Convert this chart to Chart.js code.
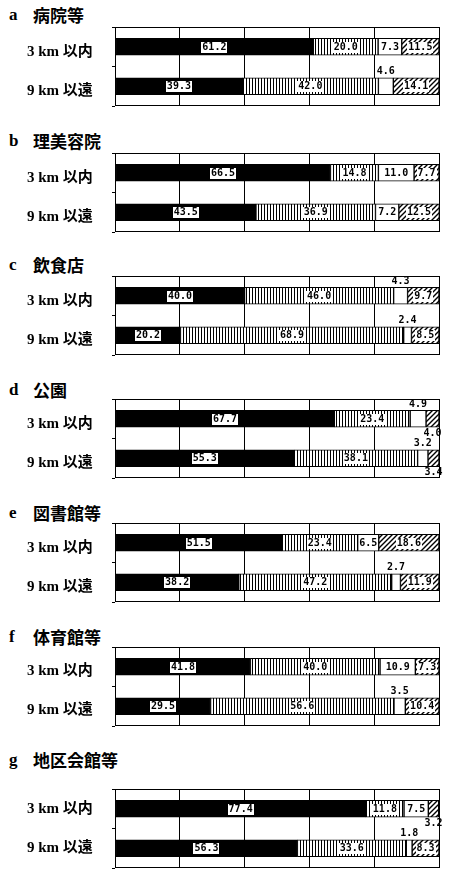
<!DOCTYPE html>
<html><head><meta charset="utf-8">
<script src="https://cdn.jsdelivr.net/npm/chart.js@4.4.1/dist/chart.umd.min.js"></script>
<style>
html,body{margin:0;padding:0;background:#fff;}
body{width:450px;height:873px;position:relative;overflow:hidden;}
.title{position:absolute;left:0;width:450px;height:20px;line-height:20px;font-weight:bold;color:#000;}
.title .l{position:absolute;left:9px;top:0;font-family:"Liberation Serif",serif;font-size:17px;}
.title .n{position:absolute;left:33px;top:0;font-family:"Noto Sans CJK JP",sans-serif;font-size:17px;white-space:nowrap;}
.box{position:absolute;left:0;width:450px;height:81px;}
</style></head><body>
<script>
// ---- data ----
const panelLetters = ['a','b','c','d','e','f','g'];
const facilityNames = ['病院等','理美容院','飲食店','公園','図書館等','体育館等','地区会館等'];
const distanceLabels = ['3 km 以内','9 km 以遠'];
const seriesNames = ['区分1','区分2','区分3','区分4'];
// each pair: [3 km 以内, 9 km 以遠]
const blackValues  = [[61.2,39.3],[66.5,43.5],[40.0,20.2],[67.7,55.3],[51.5,38.2],[41.8,29.5],[77.4,56.3]];
const stripeValues = [[20.0,42.0],[14.8,36.9],[46.0,68.9],[23.4,38.1],[23.4,47.2],[40.0,56.6],[11.8,33.6]];
const whiteValues  = [[7.3,4.6],[11.0,7.2],[4.3,2.4],[4.9,3.2],[6.5,2.7],[10.9,3.5],[7.5,1.8]];
const hatchValues  = [[11.5,14.1],[7.7,12.5],[9.7,8.5],[4.0,3.4],[18.6,11.9],[7.3,10.4],[3.2,8.3]];
const xTickValues = [0,20,40,60,80,100];

// ---- layout ----
const titleTops = [5,131,255,380,503,627,750];
const boxTops = [27,153,276,399,523,647,789];
const labelOffsets = [5,5,5,5,5,4,0];

function makeStripe(){
  const c=document.createElement('canvas'); c.width=3; c.height=4;
  const g=c.getContext('2d'); g.fillStyle='#fff'; g.fillRect(0,0,3,4);
  g.fillStyle='#000'; g.fillRect(0,0,1,4);
  return g.createPattern(c,'repeat');
}
function makeHatch(){
  const s=5;
  const c=document.createElement('canvas'); c.width=s; c.height=s;
  const g=c.getContext('2d'); g.fillStyle='#fff'; g.fillRect(0,0,s,s);
  g.strokeStyle='#000'; g.lineWidth=1.4;
  g.beginPath();
  g.moveTo(-1,s+1); g.lineTo(s+1,-1);
  g.moveTo(-1,1); g.lineTo(1,-1);
  g.moveTo(s-1,s+1); g.lineTo(s+1,s-1);
  g.stroke();
  return g.createPattern(c,'repeat');
}

const boxPlugin = {
  id:'boxFrame',
  afterDatasetsDraw(chart){
    const a=chart.chartArea, ctx=chart.ctx;
    ctx.save(); ctx.strokeStyle='#000'; ctx.lineWidth=1;
    const x0=Math.round(a.left)+0.5, x1=Math.round(a.right)+0.5;
    const y0=Math.round(a.top)+0.5, y1=Math.round(a.bottom)-0.5;
    ctx.beginPath();
    ctx.moveTo(x0,y0); ctx.lineTo(x1,y0); ctx.lineTo(x1,y1); ctx.lineTo(x0,y1); ctx.closePath();
    ctx.stroke(); ctx.restore();
  }
};

const valueLabelPlugin = {
  id:'valueLabels',
  afterDatasetsDraw(chart){
    const ctx=chart.ctx;
    ctx.save();
    ctx.font='bold 10px "DejaVu Sans Mono", monospace';
    ctx.textAlign='center'; ctx.textBaseline='middle';
    chart.data.datasets.forEach((ds,di)=>{
      const meta=chart.getDatasetMeta(di);
      meta.data.forEach((bar,i)=>{
        const v=ds.data[i];
        const txt=v.toFixed(1);
        const cx=(bar.x+bar.base)/2;
        const h=bar.height;
        if(v<5){
          const ty = di===2 ? bar.y-h/2-6 : bar.y+h/2+6;
          ctx.fillStyle='#000'; ctx.fillText(txt,cx,ty);
        } else {
          const w=Math.round(ctx.measureText(txt).width+2);
          if(di!==2){
            ctx.fillStyle='#fff';
            ctx.fillRect(Math.round(cx-w/2),Math.round(bar.y-5),w,11);
          }
          ctx.fillStyle='#000'; ctx.fillText(txt,cx,bar.y+0.5);
        }
      });
    });
    ctx.restore();
  }
};

const stripe=makeStripe(), hatch=makeHatch();

panelLetters.forEach((letter,p)=>{
  const t=document.createElement('div'); t.className='title'; t.style.top=titleTops[p]+'px';
  const l=document.createElement('span'); l.className='l'; l.textContent=letter;
  const n=document.createElement('span'); n.className='n'; n.textContent=facilityNames[p];
  t.appendChild(l); t.appendChild(n); document.body.appendChild(t);

  const box=document.createElement('div'); box.className='box'; box.style.top=(boxTops[p]-1)+'px';
  const cv=document.createElement('canvas'); box.appendChild(cv); document.body.appendChild(box);

  const fills=['#000',stripe,'#fff',hatch];
  const sources=[blackValues,stripeValues,whiteValues,hatchValues];
  new Chart(cv,{
    type:'bar',
    data:{
      labels:distanceLabels,
      datasets:sources.map((src,k)=>({
        label:seriesNames[k],
        data:src[p],
        backgroundColor:fills[k],
        borderColor:'#000',
        borderWidth:1,
        borderSkipped:false,
        barThickness:17
      }))
    },
    options:{
      indexAxis:'y',
      responsive:true,
      maintainAspectRatio:false,
      animation:false,
      devicePixelRatio:1,
      layout:{padding:{left:27,right:11,top:1,bottom:1}},
      plugins:{legend:{display:false},tooltip:{enabled:false},title:{display:false}},
      scales:{
        x:{
          stacked:true,min:0,max:100,
          afterBuildTicks(scale){scale.ticks=xTickValues.map(v=>({value:v}));},
          afterFit(scale){scale.height=0;scale.paddingLeft=0;scale.paddingRight=0;},
          ticks:{display:false},
          grid:{color:'#000',lineWidth:1,drawTicks:false},
          border:{display:false}
        },
        y:{
          stacked:true,
          afterFit(scale){scale.width=88;scale.paddingTop=0;scale.paddingBottom=0;},
          ticks:{
            color:'#000',crossAlign:'far',padding:0,labelOffset:labelOffsets[p],
            font:{family:'"Liberation Serif","Noto Sans CJK JP",serif',size:15,weight:'bold'}
          },
          grid:{display:true,drawOnChartArea:false,drawTicks:true,tickLength:3,color:'#000',offset:true},
          border:{display:false}
        }
      }
    },
    plugins:[valueLabelPlugin,boxPlugin]
  });
});
</script>
</body></html>
